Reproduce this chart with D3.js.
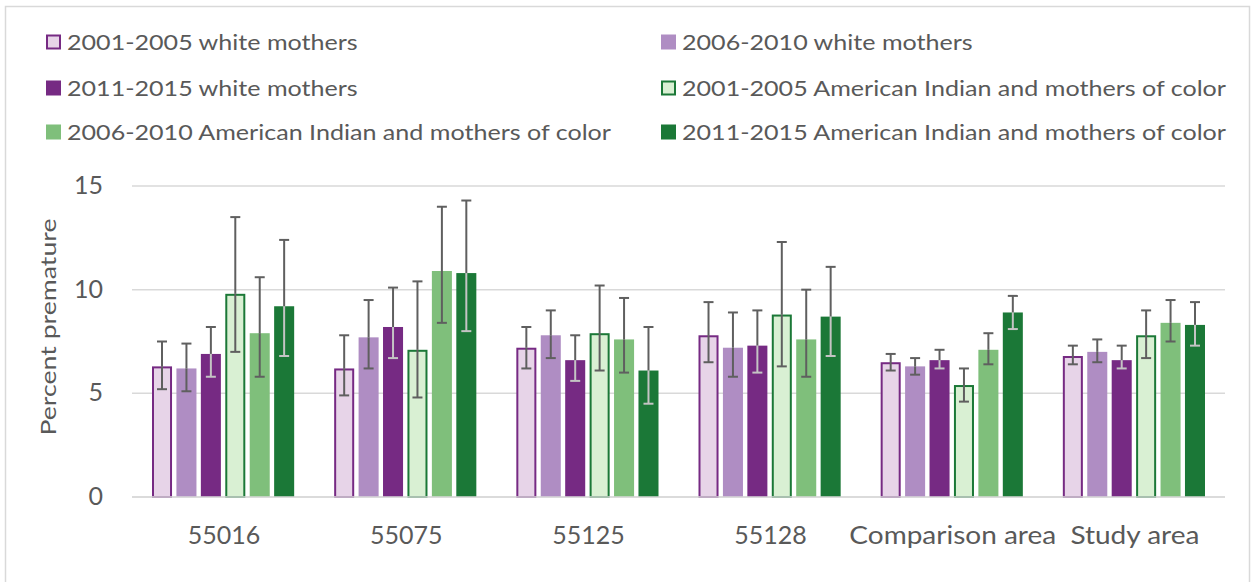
<!DOCTYPE html>
<html>
<head>
<meta charset="utf-8">
<script src="https://cdn.jsdelivr.net/npm/d3@7"></script>
<style>
  body { margin: 0; background: #fff; }
  svg { display: block; font-family: Lato, "Open Sans", sans-serif; }
</style>
</head>
<body>
<svg id="chart" width="1255" height="582"></svg>
<script>
// Categories and series
const categories = ['55016', '55075', '55125', '55128', 'Comparison area', 'Study area'];
const seriesNames = [
  '2001-2005 white mothers',
  '2006-2010 white mothers',
  '2011-2015 white mothers',
  '2001-2005 American Indian and mothers of color',
  '2006-2010 American Indian and mothers of color',
  '2011-2015 American Indian and mothers of color'
];

// Percent premature, one array per series (order follows categories)
const white0105 = [6.3, 6.2, 7.2, 7.8, 6.5, 6.8];
const white0610 = [6.2, 7.7, 7.8, 7.2, 6.3, 7.0];
const white1115 = [6.9, 8.2, 6.6, 7.3, 6.6, 6.6];
const aimoc0105 = [9.8, 7.1, 7.9, 8.8, 5.4, 7.8];
const aimoc0610 = [7.9, 10.9, 7.6, 7.6, 7.1, 8.4];
const aimoc1115 = [9.2, 10.8, 6.1, 8.7, 8.9, 8.3];

// Error bar limits (lower / upper)
const white0105Lo = [5.2, 4.9, 6.2, 6.5, 6.1, 6.4];
const white0105Hi = [7.5, 7.8, 8.2, 9.4, 6.9, 7.3];
const white0610Lo = [5.1, 6.2, 6.7, 5.8, 5.9, 6.5];
const white0610Hi = [7.4, 9.5, 9.0, 8.9, 6.7, 7.6];
const white1115Lo = [5.8, 6.7, 5.6, 6.0, 6.2, 6.2];
const white1115Hi = [8.2, 10.1, 7.8, 9.0, 7.1, 7.3];
const aimoc0105Lo = [7.0, 4.8, 6.1, 6.3, 4.6, 6.7];
const aimoc0105Hi = [13.5, 10.4, 10.2, 12.3, 6.2, 9.0];
const aimoc0610Lo = [5.8, 8.4, 6.0, 5.8, 6.4, 7.5];
const aimoc0610Hi = [10.6, 14.0, 9.6, 10.0, 7.9, 9.5];
const aimoc1115Lo = [6.8, 8.0, 4.5, 6.8, 8.1, 7.3];
const aimoc1115Hi = [12.4, 14.3, 8.2, 11.1, 9.7, 9.4];

const yTicks = [0, 5, 10, 15];

const values = [white0105, white0610, white1115, aimoc0105, aimoc0610, aimoc1115];
const lows = [white0105Lo, white0610Lo, white1115Lo, aimoc0105Lo, aimoc0610Lo, aimoc1115Lo];
const highs = [white0105Hi, white0610Hi, white1115Hi, aimoc0105Hi, aimoc0610Hi, aimoc1115Hi];

// PRGn palette; outlined series are the pale ones
const fills   = ['#e7d4e8', '#af8dc3', '#762a83', '#d9f0d3', '#7fbf7b', '#1b7837'];
const strokes = ['#762a83', null, null, '#1b7837', null, null];
const darkBar = [false, false, true, false, false, true];

const svg = d3.select('#chart');
const textColor = '#595959';
const gridColor = '#d9d9d9';

// outer frame
svg.append('rect')
  .attr('x', 5.5).attr('y', 6.5).attr('width', 1244).attr('height', 600)
  .attr('fill', 'none').attr('stroke', '#d9d9d9').attr('stroke-width', 1.5);

const plot = { left: 132, right: 1225, top: 186, bottom: 497 };

const y = d3.scaleLinear().domain([0, 15]).range([plot.bottom, plot.top]);
const x0 = d3.scaleBand().domain(categories).range([plot.left, plot.right]);
const x1 = d3.scaleBand().domain(d3.range(seriesNames.length))
  .range([20, x0.bandwidth() - 20]).paddingInner(0.18).paddingOuter(0);

// gridlines
svg.append('g').selectAll('line')
  .data(yTicks).join('line')
  .attr('x1', plot.left).attr('x2', plot.right)
  .attr('y1', d => y(d)).attr('y2', d => y(d))
  .attr('stroke', gridColor).attr('stroke-width', 1.5);

// y tick labels
svg.append('g').selectAll('text')
  .data(yTicks).join('text')
  .attr('x', 103).attr('y', d => y(d) + 8)
  .attr('text-anchor', 'end')
  .attr('fill', textColor).attr('font-size', 25)
  .text(d => d);

// x labels (word labels a bit wider, like the source font)
svg.append('g').selectAll('text')
  .data(categories).join('text')
  .attr('transform', d => `translate(${x0(d) + x0.bandwidth() / 2 + 1},544) scale(${/^\d+$/.test(d) ? 1.0 : 1.12},1)`)
  .attr('text-anchor', 'middle')
  .attr('fill', textColor).attr('font-size', 25)
  .text(d => d);

// y title
svg.append('text')
  .attr('transform', `translate(56,327) rotate(-90) scale(1.27,1)`)
  .attr('text-anchor', 'middle')
  .attr('fill', textColor).attr('font-size', 21)
  .text('Percent premature');

// bars
const groups = svg.append('g').selectAll('g')
  .data(categories).join('g')
  .attr('transform', d => `translate(${x0(d)},0)`);

const bw = x1.bandwidth();

groups.each(function (cat, ci) {
  const g = d3.select(this);
  seriesNames.forEach((s, si) => {
    const v = values[si][ci];
    const bx = x1(si);
    if (strokes[si]) {
      g.append('rect')
        .attr('x', bx + 1).attr('y', y(v) + 1)
        .attr('width', bw - 2).attr('height', y(0) - y(v) - 1)
        .attr('fill', fills[si]).attr('stroke', strokes[si]).attr('stroke-width', 2);
    } else {
      g.append('rect')
        .attr('x', bx).attr('y', y(v))
        .attr('width', bw).attr('height', y(0) - y(v))
        .attr('fill', fills[si]);
    }
  });
  // error bars
  seriesNames.forEach((s, si) => {
    const v = values[si][ci];
    const cx = x1(si) + bw / 2;
    const lo = lows[si][ci], hi = highs[si][ci];
    const outer = '#5f5f5f';
    const inner = darkBar[si] ? '#c4c4c4' : outer;
    const seg = (a, b, c) => g.append('line')
      .attr('x1', cx).attr('x2', cx).attr('y1', y(a)).attr('y2', y(b))
      .attr('stroke', c).attr('stroke-width', 2);
    const cap = (val, c) => g.append('line')
      .attr('x1', cx - 5).attr('x2', cx + 5).attr('y1', y(val)).attr('y2', y(val))
      .attr('stroke', c).attr('stroke-width', 2);
    if (hi > v) seg(Math.max(lo, v), hi, outer);
    if (lo < v) seg(lo, Math.min(hi, v), inner);
    cap(hi, hi > v ? outer : inner);
    cap(lo, lo > v ? outer : inner);
  });
});

// baseline over bars
svg.append('line')
  .attr('x1', plot.left).attr('x2', plot.right)
  .attr('y1', y(0)).attr('y2', y(0))
  .attr('stroke', gridColor).attr('stroke-width', 1.5);

// legend: two columns, three rows
const legendX = [46, 661];
const legendY = [42, 88, 132];
const legend = svg.append('g').selectAll('g')
  .data(seriesNames).join('g')
  .attr('transform', (d, i) => `translate(${legendX[i % 2]},${legendY[Math.floor(i / 2)]})`);

legend.append('rect')
  .attr('x', (d, i) => strokes[i] ? 1 : 0)
  .attr('y', (d, i) => strokes[i] ? -6.5 : -7.5)
  .attr('width', (d, i) => strokes[i] ? 13 : 15)
  .attr('height', (d, i) => strokes[i] ? 13 : 15)
  .attr('fill', (d, i) => fills[i])
  .attr('stroke', (d, i) => strokes[i] || 'none')
  .attr('stroke-width', 2);

legend.append('text')
  .attr('transform', 'translate(21,8) scale(1.195,1)')
  .attr('fill', textColor).attr('font-size', 21)
  .text(d => d);
</script>
</body>
</html>
